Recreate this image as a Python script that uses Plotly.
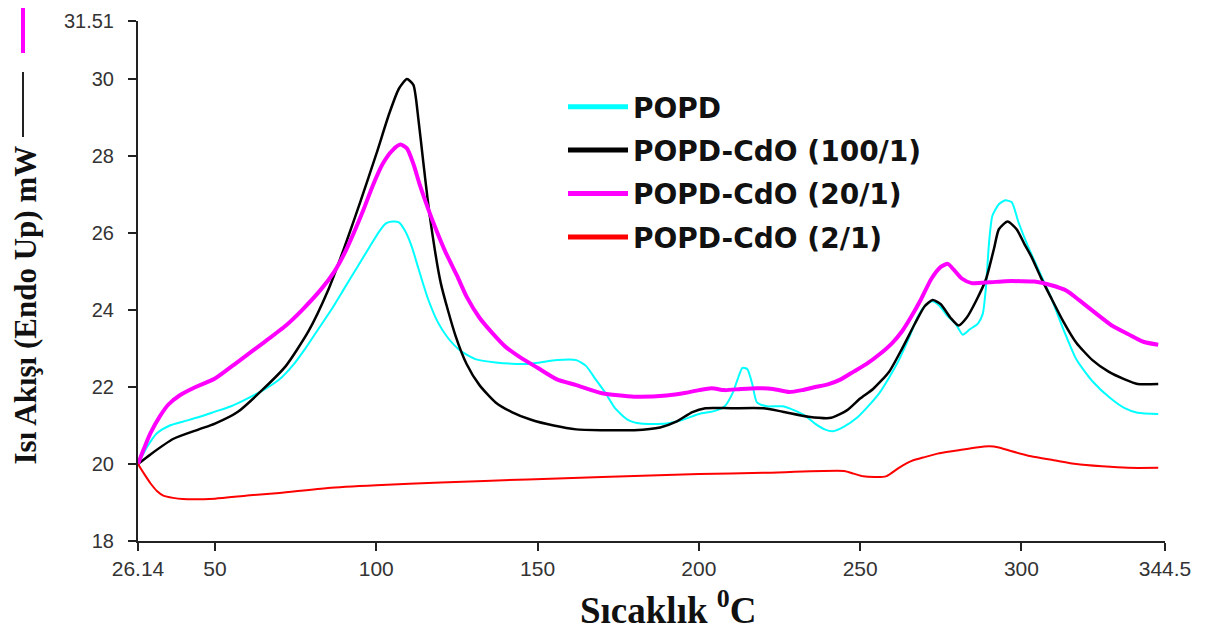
import plotly.graph_objects as go

# ---- data ----
series_names = ["POPD", "POPD-CdO (100/1)", "POPD-CdO (20/1)", "POPD-CdO (2/1)"]

popd_x = [26.14, 29, 32, 36, 40, 45, 50, 55, 60, 65, 70, 74, 78, 82, 86, 90, 94, 98, 101, 103, 105, 107,
          109, 111, 113, 116, 119, 122, 126, 131, 137, 147, 156, 162, 165, 168, 171, 174, 178, 182, 190,
          195, 200, 205, 208, 210.5, 212, 213.5, 215, 216.5, 218, 221, 226, 230, 233, 236, 239, 241.5,
          245, 249, 253, 256, 259, 262, 265, 268, 270, 272.3, 274.5, 277, 279.5, 281.8, 284, 286.5, 288,
          289, 290, 291, 293, 295, 297, 299, 301.8, 305, 309, 313, 317, 322, 327.7, 332, 336, 342.4]
popd_y = [20.0, 20.45, 20.8, 21.0, 21.1, 21.22, 21.36, 21.5, 21.7, 21.92, 22.2, 22.55, 23.0, 23.5, 24.0,
          24.55, 25.1, 25.65, 26.05, 26.25, 26.3, 26.28, 26.05, 25.65, 25.1, 24.3, 23.7, 23.3, 22.95,
          22.72, 22.64, 22.6, 22.7, 22.7, 22.55, 22.2, 21.85, 21.45, 21.15, 21.05, 21.05, 21.15, 21.3,
          21.38, 21.5, 21.85, 22.2, 22.5, 22.47, 22.1, 21.6, 21.5, 21.5, 21.38, 21.25, 21.05, 20.9, 20.85,
          20.97, 21.2, 21.55, 21.85, 22.25, 22.7, 23.25, 23.85, 24.1, 24.23, 24.12, 23.85, 23.65, 23.36,
          23.5, 23.65, 23.9, 24.6, 25.8, 26.45, 26.75, 26.85, 26.8, 26.3, 25.7, 25.1, 24.36, 23.5, 22.72,
          22.15, 21.7, 21.45, 21.33, 21.3]

cdo100_x = [26.14, 30, 37, 45, 50, 57, 65, 72, 79, 85, 90, 95, 100, 104, 107, 109.5, 111.5, 113, 114.5,
            116.5, 120, 124.5, 128, 132, 137, 142, 148, 155, 162, 170, 180, 188, 193, 198, 202, 210, 220,
            226, 234, 241, 246, 250, 254, 259, 263, 267, 270, 272.5, 275, 278, 280.5, 283, 286, 289,
            291.5, 293, 295.7, 298.5, 301, 303, 306, 309, 313, 317, 322, 327, 332, 336, 342.4]
cdo100_y = [20.0, 20.25, 20.65, 20.9, 21.05, 21.35, 21.95, 22.55, 23.45, 24.5, 25.6, 26.8, 28.05, 29.1,
            29.75, 30.0, 29.85, 29.0, 27.9, 26.5, 24.7, 23.35, 22.6, 22.05, 21.6, 21.35, 21.15, 21.0,
            20.9, 20.88, 20.88, 20.95, 21.1, 21.35, 21.45, 21.45, 21.45, 21.36, 21.23, 21.2, 21.4, 21.7,
            21.95, 22.4, 23.0, 23.65, 24.1, 24.26, 24.15, 23.8, 23.6, 23.8, 24.25, 24.8, 25.6, 26.1, 26.3,
            26.1, 25.7, 25.4, 24.85, 24.35, 23.7, 23.15, 22.7, 22.4, 22.2, 22.08, 22.08]

cdo20_x = [26.14, 28, 30, 33, 35.5, 39, 44, 50, 57, 65, 72, 77, 83, 87, 90, 93, 96, 99, 102, 105, 107.5,
           109.5, 111.5, 113.5, 116, 118.5, 121.5, 125, 128, 132, 136, 140, 145, 150, 156, 162, 170, 180,
           190, 196, 200, 204, 208, 213, 218, 223, 228, 232, 236, 240, 244, 248, 252, 256, 260, 263, 266,
           269, 272, 275, 277.2, 279, 281.5, 284.6, 290, 295, 300, 304, 309, 314, 318, 323, 328, 333,
           338, 342.4]
cdo20_y = [20.0, 20.4, 20.8, 21.25, 21.54, 21.78, 22.0, 22.22, 22.65, 23.15, 23.6, 24.0, 24.55, 25.0,
           25.45, 26.0, 26.6, 27.25, 27.8, 28.15, 28.3, 28.2, 27.8, 27.25, 26.65, 26.1, 25.5, 24.9, 24.35,
           23.8, 23.4, 23.05, 22.75, 22.5, 22.2, 22.05, 21.84, 21.75, 21.78, 21.85, 21.92, 21.97, 21.92,
           21.95, 21.97, 21.95, 21.87, 21.92, 22.0, 22.07, 22.2, 22.4, 22.6, 22.85, 23.15, 23.45, 23.85,
           24.3, 24.8, 25.12, 25.2, 25.05, 24.82, 24.7, 24.72, 24.75, 24.75, 24.74, 24.65, 24.5, 24.25,
           23.92, 23.6, 23.38, 23.17, 23.1]

cdo2_x = [26.14, 28, 30, 32, 34, 37, 40, 50, 60, 70, 85, 100, 120, 147, 170, 200, 220, 245, 248, 251,
          258, 262, 266, 270, 274, 280, 286, 290, 293, 297, 303, 310, 317, 325, 333, 342.4]
cdo2_y = [20.0, 19.75, 19.5, 19.3, 19.18, 19.12, 19.09, 19.1, 19.18, 19.25, 19.38, 19.45, 19.52, 19.6,
          19.66, 19.74, 19.77, 19.82, 19.75, 19.68, 19.68, 19.9, 20.08, 20.18, 20.27, 20.35, 20.43, 20.46,
          20.43, 20.33, 20.2, 20.1, 20.0, 19.94, 19.9, 19.9]

x_tick_vals = [26.14, 50, 100, 150, 200, 250, 300, 344.5]
x_tick_text = ["26.14", "50", "100", "150", "200", "250", "300", "344.5"]
y_tick_vals = [18, 20, 22, 24, 26, 28, 30, 31.51]
y_tick_text = ["18", "20", "22", "24", "26", "28", "30", "31.51"]

y_title = "Isı Akışı (Endo Up) mW"
x_title = "Sıcaklık <sup>0</sup>C"

# ---- styles ----
colors = ["#00FFFF", "#000000", "#FF00FF", "#FF0000"]
widths = [2, 2.5, 4, 2]

# plot area in page pixels (used only to place the decorations)
P_LEFT, P_TOP, P_BOTTOM, P_W = 138, 21, 541, 1027
P_H = P_BOTTOM - P_TOP

fig = go.Figure()
all_series = [(popd_x, popd_y), (cdo100_x, cdo100_y), (cdo20_x, cdo20_y), (cdo2_x, cdo2_y)]
for i, (xs, ys) in enumerate(all_series):
    fig.add_trace(go.Scatter(
        x=xs, y=ys, mode="lines", name=series_names[i], showlegend=False,
        line=dict(color=colors[i], width=widths[i], shape="spline", smoothing=0.6),
        legendgroup=f"g{i}",
    ))
# legend entries with thicker sample lines
for i in range(len(series_names)):
    fig.add_trace(go.Scatter(
        x=[None], y=[None], mode="lines", name=series_names[i], showlegend=True,
        line=dict(color=colors[i], width=5), legendgroup=f"g{i}",
    ))

fig.update_layout(
    width=1216, height=631,
    margin=dict(l=130, r=59, t=13, b=98, autoexpand=False),
    paper_bgcolor="white", plot_bgcolor="white",
    showlegend=True,
    legend=dict(
        x=(563 - P_LEFT) / P_W, y=(P_BOTTOM - 82) / P_H, xanchor="left", yanchor="top",
        font=dict(family="DejaVu Sans, Liberation Sans, Arial", size=28, color="#111", weight="bold"),
        bgcolor="rgba(0,0,0,0)", tracegroupgap=4, itemwidth=60,
    ),
    font=dict(family="Liberation Sans, Arial", color="#333"),
)

fig.update_xaxes(
    range=[26.14, 344.5], tickmode="array", tickvals=x_tick_vals, ticktext=x_tick_text,
    showline=True, linecolor="#222", linewidth=2, ticks="outside", ticklen=8, tickwidth=2,
    tickcolor="#222", showgrid=False, zeroline=False, ticklabeloverflow="allow",
    tickfont=dict(family="Liberation Sans, Arial", size=21, color="#333"),
)
fig.update_yaxes(
    range=[18, 31.51], tickmode="array", tickvals=y_tick_vals, ticktext=y_tick_text,
    showline=True, linecolor="#222", linewidth=2, ticks="outside", ticklen=8, tickwidth=2,
    tickcolor="#222", showgrid=False, zeroline=False, ticklabelstandoff=10,
    ticklabeloverflow="allow",
    tickfont=dict(family="Liberation Sans, Arial", size=20, color="#333"),
)

# axis titles
fig.add_annotation(
    xref="paper", yref="paper", x=(25 - P_LEFT) / P_W, y=(P_BOTTOM - 467) / P_H,
    xanchor="center", yanchor="bottom", textangle=-90, showarrow=False,
    text="<b>" + y_title + "</b>",
    font=dict(family="Liberation Serif, Times New Roman", size=31, color="#111"),
)
fig.add_annotation(
    xref="paper", yref="paper", x=(668 - P_LEFT) / P_W, y=(P_BOTTOM - 607) / P_H,
    xanchor="center", yanchor="middle", showarrow=False,
    text="<b>" + x_title + "</b>",
    font=dict(family="Liberation Serif, Times New Roman", size=37, color="#111"),
)
# the line keys that accompany the y-axis title (black and magenta)
fig.add_shape(type="line", xref="paper", yref="paper",
              x0=(23 - P_LEFT) / P_W, x1=(23 - P_LEFT) / P_W,
              y0=(P_BOTTOM - 137) / P_H, y1=(P_BOTTOM - 72) / P_H,
              line=dict(color="#222", width=2))
fig.add_shape(type="line", xref="paper", yref="paper",
              x0=(23 - P_LEFT) / P_W, x1=(23 - P_LEFT) / P_W,
              y0=(P_BOTTOM - 53) / P_H, y1=(P_BOTTOM + 10) / P_H,
              line=dict(color="#FF00FF", width=4))

fig.write_html("out.html")
